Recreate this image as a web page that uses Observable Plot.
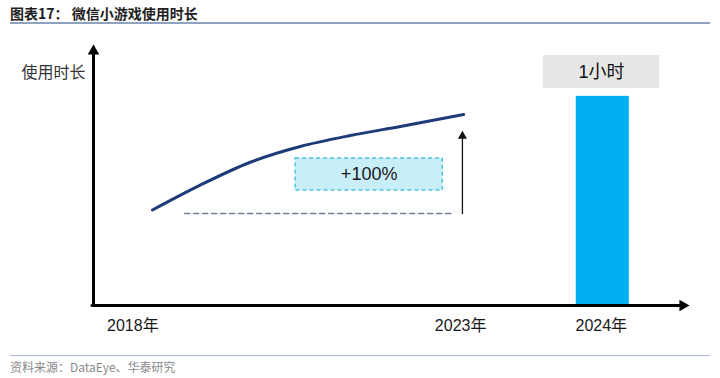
<!DOCTYPE html>
<html>
<head>
<meta charset="utf-8">
<script src="https://cdn.jsdelivr.net/npm/d3@7"></script>
<script src="https://cdn.jsdelivr.net/npm/@observablehq/plot@0.6"></script>
<style>
  html, body { margin: 0; padding: 0; background: #fff; width: 720px; height: 378px; overflow: hidden; }
  #title { margin: 0 10px; height: 22px; border-bottom: 2px solid #8ea3c2; font: bold 14px "Noto Sans CJK SC", sans-serif; line-height: 26px; color: #1e1e1e; white-space: pre; }
  #chart svg { display: block; }
  #caption { margin: 0 10px; border-top: 1px solid #a9b8cf; font: 12px "Noto Sans CJK SC", "Liberation Sans", sans-serif; line-height: 21px; color: #8a8a8a; }
</style>
</head>
<body>
<div id="title">图表17： 微信小游戏使用时长</div>
<div id="chart"></div>
<div id="caption">资料来源：DataEye、华泰研究</div>
<script>
// Schematic timeline: x in abstract axis units (0 = origin, 100 = arrow tip)
// y in "usage" units, where 2018 usage = 1 and 2023 usage = 2 (+100%)
const curvePos   = [9.9, 17.9, 26.3, 34.7, 43.1, 51.5, 62.1];
const curveUsage = [1.0, 1.26, 1.50, 1.665, 1.78, 1.875, 2.0];

const yearLabels = ["2018年", "2023年", "2024年"];
const yearPos    = [6.6, 61.6, 85.2];

const baseUsage  = 0.963;          // dashed baseline level
const baseFrom   = 15.3, baseTo = 60.2;
const growthPos  = 61.9, growthTop = 1.83;
const growthText = "+100%";
const growthBox  = {x1: 33.9, x2: 58.6, y1: 1.204, y2: 1.539};

const bar2024    = {x1: 81.0, x2: 89.9, usage: 2.19};
const barLabel   = "1小时";
const barLabelBox = {x1: 75.5, x2: 95.0, y1: 2.272, y2: 2.618};

const yTitle = "使用时长";
const axisTopY = 2.733, axisEndX = 100;

const sans = "'Liberation Sans', 'Noto Sans CJK SC', sans-serif";

const curve = curvePos.map((x, i) => ({x, y: curveUsage[i]}));
const years = yearLabels.map((t, i) => ({t, x: yearPos[i], y: -0.209}));

const chart = Plot.plot({
  width: 720,
  height: 331,
  margin: 0,
  style: {background: "#fff", overflow: "visible"},
  x: {domain: [0, 100], range: [93, 689], axis: null},
  y: {domain: [0, 2.75], range: [281, 281 - 2.75 * 95.5], axis: null},
  marks: [
    // +100% box
    Plot.rect([growthBox], {x1: "x1", x2: "x2", y1: "y1", y2: "y2", fill: "#c8eefa", stroke: "#4cc3da", strokeWidth: 1.5, strokeDasharray: "4,3"}),
    Plot.text([growthText], {x: (growthBox.x1 + growthBox.x2) / 2, y: (growthBox.y1 + growthBox.y2) / 2, text: d => d, fontSize: 18, fontFamily: sans, fill: "#1a1a1a"}),
    // dashed baseline
    Plot.line([{x: baseFrom, y: baseUsage}, {x: baseTo, y: baseUsage}], {x: "x", y: "y", stroke: "#6f7f99", strokeWidth: 1.6, strokeDasharray: "5,4"}),
    // growth arrow
    Plot.arrow([{x1: growthPos, y1: baseUsage, x2: growthPos, y2: growthTop}], {x1: "x1", y1: "y1", x2: "x2", y2: "y2", stroke: "#111", strokeWidth: 1.3, headLength: 0, insetEnd: 5}),
    Plot.dot([{x: growthPos, y: growthTop}], {x: "x", y: "y", symbol: "triangle", r: 3.4, fill: "#111", stroke: null, dy: 5.3}),
    // usage curve 2018 -> 2023
    Plot.line(curve, {x: "x", y: "y", curve: "monotone-x", stroke: "#1d3b78", strokeWidth: 3, strokeLinecap: "round"}),
    // 2024 bar
    Plot.rect([bar2024], {x1: "x1", x2: "x2", y1: 0, y2: "usage", fill: "#00b0f0"}),
    Plot.rect([barLabelBox], {x1: "x1", x2: "x2", y1: "y1", y2: "y2", fill: "#e6e6e6"}),
    Plot.text([barLabel], {x: (barLabelBox.x1 + barLabelBox.x2) / 2, y: (barLabelBox.y1 + barLabelBox.y2) / 2, text: d => d, fontSize: 18, fontFamily: sans, fill: "#111"}),
    // axes
    Plot.arrow([{x1: 0, y1: 0, x2: 0, y2: axisTopY}], {x1: "x1", y1: "y1", x2: "x2", y2: "y2", stroke: "#000", strokeWidth: 3, headLength: 0, insetEnd: 6}),
    Plot.arrow([{x1: 0, y1: 0, x2: axisEndX, y2: 0}], {x1: "x1", y1: "y1", x2: "x2", y2: "y2", stroke: "#000", strokeWidth: 3, headLength: 0, insetEnd: 6, insetStart: -1.5}),
    Plot.dot([{x: 0, y: axisTopY}], {x: "x", y: "y", symbol: "triangle", r: 4.3, fill: "#000", stroke: null, dy: 6.7}),
    Plot.dot([{x: axisEndX, y: 0}], {x: "x", y: "y", symbol: "triangle", r: 4.3, fill: "#000", stroke: null, rotate: 90, dx: -6.7}),
    // labels
    Plot.text(years, {x: "x", y: "y", text: "t", fontSize: 16, fontFamily: sans, fill: "#1a1a1a"}),
    Plot.text([yTitle], {x: -6.7, y: 2.44, text: d => d, fontSize: 16, fontFamily: "'Noto Sans CJK SC', sans-serif", fill: "#333"})
  ]
});
document.getElementById("chart").appendChild(chart);
</script>
</body>
</html>
